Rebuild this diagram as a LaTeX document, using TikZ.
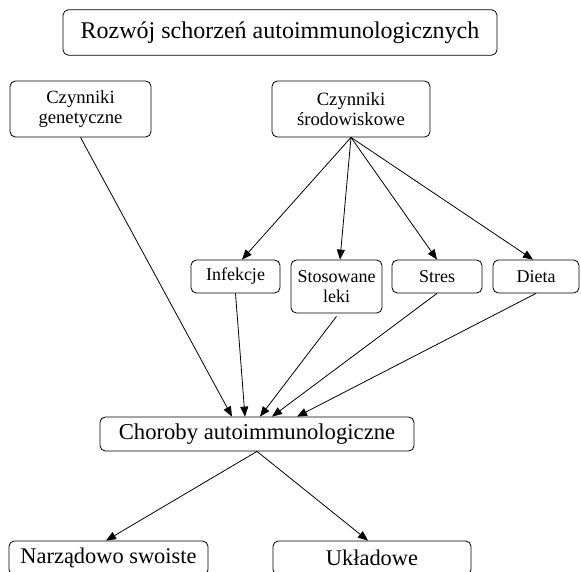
\documentclass[tikz,border=0pt]{standalone}
\usepackage{fontspec}
\setmainfont{Liberation Serif}
\usetikzlibrary{arrows.meta, calc, positioning}

\begin{document}
\begin{tikzpicture}[
        x=0.75pt, y=-0.75pt,
        box/.style={rectangle, rounded corners=4pt, draw=black, line width=0.6pt, align=center, inner sep=0pt},
        bigbox/.style={box, font=\fontsize{18}{20}\selectfont},
        midbox/.style={box, font=\fontsize{14}{15.5}\selectfont},
        smallbox/.style={box, font=\fontsize{13.5}{14.5}\selectfont},
        arrow/.style={line width=0.6pt, -{Triangle[length=7.5pt,width=6pt]}}
    ]
        \useasboundingbox (0,0) rectangle (581,571);

        % Boxes
        \node[bigbox, minimum width=325.5pt, minimum height=34pt] (rozwoj) at (280,32.5) {Rozwój schorzeń autoimmunologicznych};
        \node[midbox, minimum width=105.75pt, minimum height=42pt] (gen) at (80.5,109) {Czynniki\\genetyczne};
        \node[midbox, minimum width=118.5pt, minimum height=42pt] (srod) at (351,109) {Czynniki\\środowiskowe};
        \node[smallbox, minimum width=66.75pt, minimum height=24.75pt] (inf) at (235.5,276.5) {Infekcje};
        \node[smallbox, minimum width=68.25pt, minimum height=39.75pt] (leki) at (336.5,286.5) {Stosowane\\leki};
        \node[smallbox, minimum width=67.5pt, minimum height=24.75pt] (stres) at (437,276.5) {Stres};
        \node[smallbox, minimum width=64.5pt, minimum height=24.75pt] (dieta) at (536,276.5) {Dieta};
        \node[bigbox, font=\fontsize{17}{19}\selectfont, minimum width=235.5pt, minimum height=25.5pt] (choroby) at (257,434) {Choroby autoimmunologiczne};
        \node[bigbox, font=\fontsize{16.8}{19}\selectfont, minimum width=149.25pt, minimum height=25.5pt] (narz) at (108.5,558) {Narządowo swoiste};
        \node[bigbox, font=\fontsize{16.8}{19}\selectfont, minimum width=148.5pt, minimum height=25.5pt] (ukl) at (372,558) {Układowe};

        % Connectors
        \draw[arrow] (gen.south) -- ($(choroby.north)+(-25,0)$);
        \draw[arrow] (srod.south) -- ($(inf.north)+(6.5,0)$);
        \draw[arrow] (srod.south) -- ($(leki.north)+(3.5,0)$);
        \draw[arrow] (srod.south) -- (stres.north);
        \draw[arrow] (srod.south) -- ($(dieta.north)+(-3,0)$);
        \draw[arrow] (inf.south) -- ($(choroby.north)+(-12,0)$);
        \draw[arrow] ($(leki.south)+(0,3)$) -- ($(choroby.north)+(3,0)$);
        \draw[arrow] (stres.south) -- ($(choroby.north)+(15,0)$);
        \draw[arrow] (dieta.south) -- ($(choroby.north)+(40,0)$);
        \draw[arrow] (choroby.south) -- ($(narz.north)+(-2.5,0)$);
        \draw[arrow] (choroby.south) -- ($(ukl.north)+(-4,0)$);

    \end{tikzpicture}
\end{document}
